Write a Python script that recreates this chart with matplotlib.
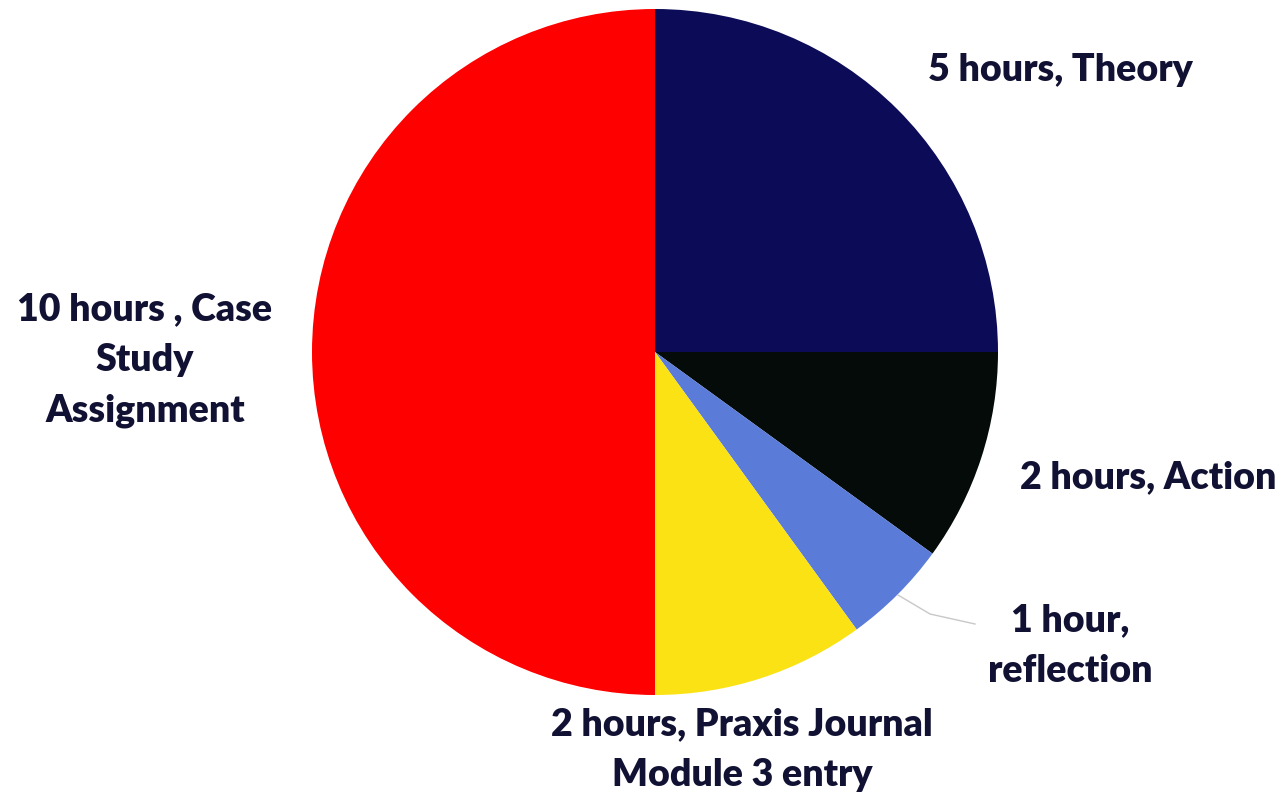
import matplotlib
matplotlib.use("Agg")
import matplotlib.pyplot as plt

labels = ["5 hours, Theory", "2 hours, Action", "1 hour,\nreflection",
          "2 hours, Praxis Journal\nModule 3 entry", "10 hours , Case\nStudy\nAssignment"]
hours = [5, 2, 1, 2, 10]
colors = ["#0b0b58", "#040b08", "#5a7bd8", "#fbe214", "#ff0000"]

# label anchor points in pixel coords (x, y from bottom)
label_pos = [(1060, 726), (1148, 319), (1070, 150), (742, 46), (145, 436)]

fig = plt.figure(figsize=(12.86, 7.96), dpi=100)
ax = fig.add_axes([0, 0, 1, 1])
ax.set_xlim(0, 1286)
ax.set_ylim(0, 796)

wedges, _ = ax.pie(hours, colors=colors, startangle=90, counterclock=False,
                   center=(655, 444), radius=343, frame=True,
                   wedgeprops={'linewidth': 0})
ax.set_aspect('equal')
ax.axis('off')

for lab, (x, y) in zip(labels, label_pos):
    ax.text(x, y, lab, ha='center', va='center', fontsize=27, fontweight='heavy',
            family='Lato', color='#111133', linespacing=1.6)

# leader line for the small slice
ax.plot([898, 930, 975], [201, 182, 172], color='#c8c8c8', lw=1)

fig.savefig("out.png", dpi=100)
